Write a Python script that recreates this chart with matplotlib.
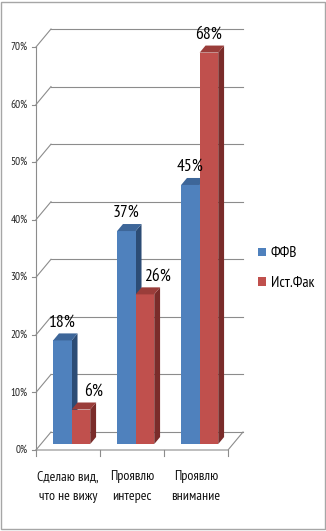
import matplotlib
matplotlib.use('Agg')
import matplotlib.pyplot as plt
from matplotlib.patches import Polygon, Rectangle, Patch

plt.rcParams['font.family'] = ['PT Sans Narrow', 'DejaVu Sans']

# Данные
categories = ['Сделаю вид,\nчто не вижу', 'Проявлю\nинтерес', 'Проявлю\nвнимание']
series_names = ['ФФВ', 'Ист.Фак']
ffv = [18, 37, 45]
istfak = [6, 26, 68]
yticks = [0, 10, 20, 30, 40, 50, 60, 70]

# цвета граней (перед, верх, бок)
colors = [('#4F81BD', '#3D6699', '#2C4C75'),
          ('#C0504D', '#9A3D3A', '#7A2C2A')]
grid_col = '#8C8C8C'

W, H = 326, 531
fig = plt.figure(figsize=(W / 100, H / 100), dpi=100)
ax = fig.add_axes([36 / W, 81 / H, 192 / W, 403 / H])
ax.set_xlim(0, 3)
ax.set_ylim(0, 70)
ax.axis('off')

# глубина "3D"
DX = 15 / 64.0       # полная глубина по x (ед. данных)
DY = 18 / 5.757      # полная глубина по y (%)
f0, fb = 0.33, 0.39  # положение и глубина столбиков
bw = 0.29

# сетка на задней стенке и левой стенке
for v in yticks:
    ax.plot([0, DX], [v, v + DY], color=grid_col, lw=0.8, clip_on=False)
    ax.plot([DX, 3 + DX], [v + DY, v + DY], color=grid_col, lw=0.8, clip_on=False)
# пол
ax.plot([0, 3, 3 + DX], [0, 0, DY], color=grid_col, lw=0.8, clip_on=False)
# ось y
ax.plot([0, 0], [0, 70], color=grid_col, lw=0.8, clip_on=False)
for v in yticks:
    ax.plot([-0.06, 0], [v, v], color=grid_col, lw=0.8, clip_on=False)
    ax.text(-0.13, v, '%d%%' % v, ha='right', va='center', fontsize=8, color='#222222')
# ось x
for i in range(4):
    ax.plot([i, i], [0, -1.0], color=grid_col, lw=0.8, clip_on=False)
for i, c in enumerate(categories):
    ax.text(i + 0.5, -3.5, c, ha='center', va='top', fontsize=10,
            linespacing=1.7, color='#111111')

# столбики
label_dx = [[0, 0, 0], [0.2, 0.2, 0]]
for s, vals in enumerate([ffv, istfak]):
    front, top, side = colors[s]
    for i, v in enumerate(vals):
        x0 = i + 0.48 - bw + s * bw + f0 * DX
        y0 = f0 * DY
        ax.bar(x0, v, width=bw, bottom=y0, align='edge', color=front,
               linewidth=0, clip_on=False, zorder=3 + s)
        yt = y0 + v
        ax.add_patch(Polygon([(x0 + bw, y0), (x0 + bw, yt), (x0 + bw + fb * DX, yt + fb * DY),
                              (x0 + bw + fb * DX, y0 + fb * DY)], closed=True,
                             facecolor=side, lw=0, clip_on=False, zorder=2.5 + s))
        ax.add_patch(Polygon([(x0, yt), (x0 + bw, yt), (x0 + bw + fb * DX, yt + fb * DY),
                              (x0 + fb * DX, yt + fb * DY)], closed=True,
                             facecolor=top, lw=0, clip_on=False, zorder=3 + s))
        ax.text(x0 + bw / 2 + label_dx[s][i], yt + 3.1, '%d%%' % v, ha='center',
                va='center', fontsize=12.5, color='black', zorder=6)

# легенда
handles = [Patch(facecolor=colors[k][0], edgecolor='none') for k in range(2)]
fig.legend(handles, series_names, loc='center left', bbox_to_anchor=(258 / W, 1 - 268 / H),
           frameon=False, fontsize=11, handlelength=0.5, handleheight=0.5,
           handletextpad=0.35, labelspacing=1.0, borderpad=0, borderaxespad=0)

# рамка
fig.patches.append(Rectangle((1 / W, 2 / H), 324 / W, 527 / H, transform=fig.transFigure,
                             fill=False, edgecolor='#A6A6A6', lw=1.0))

fig.savefig('out.png', dpi=100)
